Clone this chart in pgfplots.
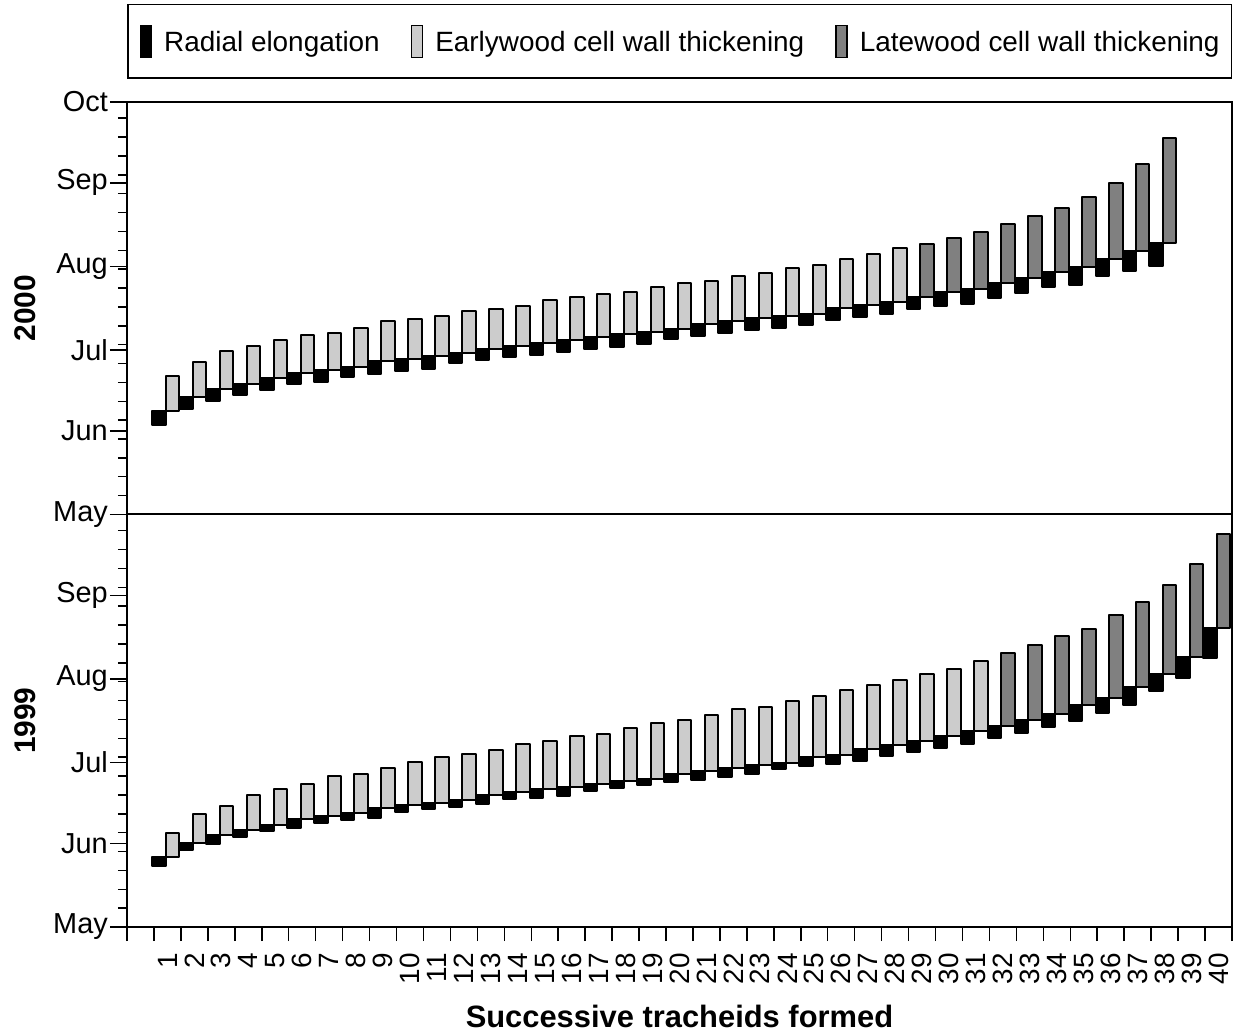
\documentclass[border=0pt]{standalone}
\usepackage{fontspec}
\setmainfont{Liberation Sans}
\usepackage{pgfplots}
\usepackage{pgfplotstable}
\pgfplotsset{compat=1.18}
\definecolor{lightbar}{RGB}{204,204,204}
\definecolor{darkbar}{RGB}{128,128,128}

% y values: days since 1 May
\pgfplotstableread{
i b0 b1
1 33.3 38.4
2 39.25 43.6
3 42.1 46.7
4 44.2 48.5
5 46.0 50.6
6 48.3 52.6
7 49.1 53.7
8 51.0 54.7
9 52.0 56.8
10 53.2 57.8
11 54.1 58.7
12 56.2 59.9
13 57.2 61.5
14 58.4 62.5
15 59.3 63.6
16 60.3 64.6
17 61.3 65.8
18 62.1 66.8
19 63.1 67.7
20 65.2 68.7
21 66.2 70.8
22 67.3 71.7
23 68.3 72.7
24 69.2 73.6
25 70.2 74.5
26 72.3 76.6
27 73.3 77.8
28 74.3 78.8
29 76.1 80.7
30 77.2 82.5
31 78.2 83.8
32 80.3 85.7
33 82.3 87.8
34 84.4 89.8
35 85.3 91.8
36 88.4 94.6
37 90.3 97.7
38 92.3 100.7
}\topblack
\pgfplotstableread{
i b1 g1
1 38.4 51.4
2 43.6 56.6
3 46.7 60.5
4 48.5 62.4
5 50.6 64.6
6 52.6 66.5
7 53.7 67.5
8 54.7 69.3
9 56.8 71.6
10 57.8 72.4
11 58.7 73.5
12 59.9 75.5
13 61.5 76.4
14 62.5 77.2
15 63.6 79.7
16 64.6 80.5
17 65.8 81.6
18 66.8 82.6
19 67.7 84.4
20 68.7 85.7
21 70.8 86.5
22 71.7 88.4
23 72.7 89.6
24 73.6 91.5
25 74.5 92.5
26 76.6 94.6
27 77.8 96.5
28 78.8 98.7
}\toplight
\pgfplotstableread{
i b1 g1
29 80.7 100.5
30 82.5 102.7
31 83.8 104.6
32 85.7 107.6
33 87.8 110.7
34 89.8 113.5
35 91.8 117.6
36 94.6 122.8
37 97.7 129.9
38 100.7 139.7
}\topdark

\pgfplotstableread{
i b0 b1
1 22.5 25.8
2 28.5 31.0
3 30.7 34.1
4 33.4 35.9
5 35.6 38.0
6 36.8 39.9
7 38.6 41.1
8 39.6 42.1
9 40.6 44.0
10 42.7 45.2
11 43.6 46.0
12 44.6 47.0
13 45.6 48.9
14 47.3 50.1
15 47.7 51.0
16 48.6 52.0
17 50.5 53.0
18 51.6 54.1
19 52.6 55.0
20 53.6 56.9
21 54.7 57.9
22 55.7 59.0
23 56.7 60.0
24 58.5 61.0
25 59.6 63.1
26 60.6 63.9
27 61.6 66.2
28 63.5 67.5
29 65.0 69.0
30 66.5 70.8
31 68.0 72.6
32 70.0 74.5
33 72.0 76.6
34 74.0 79.1
35 76.5 82.2
36 79.5 85.0
37 82.5 89.0
38 87.5 94.0
39 92.4 100.1
40 99.7 111.0
}\botblack
\pgfplotstableread{
i b1 g1
1 25.8 34.9
2 31.0 41.9
3 34.1 44.8
4 35.9 48.9
5 38.0 51.0
6 39.9 52.9
7 41.1 55.9
8 42.1 56.9
9 44.0 59.0
10 45.2 61.2
11 46.0 63.1
12 47.0 64.0
13 48.9 65.8
14 50.1 67.8
15 51.0 68.9
16 52.0 70.7
17 53.0 71.7
18 54.1 73.8
19 55.0 75.8
20 56.9 76.9
21 57.9 78.8
22 59.0 80.7
23 60.0 81.6
24 61.0 83.8
25 63.1 85.7
26 63.9 87.8
27 66.2 89.6
28 67.5 91.6
29 69.0 93.7
30 70.8 95.8
31 72.6 98.6
}\botlight
\pgfplotstableread{
i b1 g1
32 74.5 101.7
33 76.6 104.7
34 79.1 107.8
35 82.2 110.6
36 85.0 115.7
37 89.0 120.7
38 94.0 126.7
39 100.1 134.7
40 111.0 145.8
}\botdark

\pgfplotsset{
  base/.style={scale only axis, width=1105bp, height=412.5bp,
    xmin=-0.5, xmax=40.5, ymin=0, ymax=153, anchor=south west},
  bars/.style={base, hide axis, ybar stacked, bar width=0.5},
  barline/.style={draw=black, line width=2bp, line join=round},
  frame/.style={base, axis line style={line width=2bp},
    tick align=outside, ytick pos=left,
    ytick={0,31,61,92,123,153},
    minor ytick={7,14,...,147},
    major tick length=17bp, minor tick length=9bp,
    every tick/.style={line width=1.5bp, black},
    yticklabel style={font=\fontsize{29}{29}\selectfont, inner sep=0pt, anchor=east, xshift=-2bp},
    ylabel style={font=\fontsize{30}{30}\selectfont\bfseries, at={(axis description cs:0,0.5)}, anchor=center, xshift=0bp, yshift=102bp},
  },
  legimg/.style={draw=black, line width=1.5bp,
    legend image code/.code={\draw[##1] (0bp,-15bp) rectangle (11bp,17bp);}},
}

\begin{document}
\begin{tikzpicture}
\path[use as bounding box] (0,0) rectangle (1244bp,1034bp);

% ---------- top panel (2000) ----------
\begin{axis}[frame, at={(127bp,519.5bp)}, xtick=\empty,
  yticklabels={May,Jun,Jul,Aug,Sep,Oct},
  ylabel={2000},
  legend columns=3,
  legend style={at={(axis description cs:0,1)}, anchor=south west, yshift=23bp,
    draw=black, line width=1.5bp, inner xsep=12bp, inner ysep=20bp,
    font=\fontsize{28}{28}\selectfont,
    nodes={inner xsep=0pt, inner ysep=2bp},
    /tikz/every odd column/.append style={column sep=12bp},
    /tikz/every even column/.append style={column sep=31bp}},
]
\addlegendimage{legimg, fill=black}
\addlegendentry{Radial elongation}
\addlegendimage{legimg, fill=lightbar}
\addlegendentry{Earlywood cell wall thickening}
\addlegendimage{legimg, fill=darkbar}
\addlegendentry{Latewood cell wall thickening}
\end{axis}

\begin{axis}[bars, at={(127bp,519.5bp)}]
\addplot[draw=none, fill=none] table[x expr=\thisrow{i}-0.31, y=b0] {\topblack};
\addplot[barline, fill=black] table[x expr=\thisrow{i}-0.31, y expr=\thisrow{b1}-\thisrow{b0}] {\topblack};
\end{axis}
\begin{axis}[bars, at={(127bp,519.5bp)}]
\addplot[draw=none, fill=none] table[x expr=\thisrow{i}+0.19, y=b1] {\toplight};
\addplot[barline, fill=lightbar] table[x expr=\thisrow{i}+0.19, y expr=\thisrow{g1}-\thisrow{b1}] {\toplight};
\end{axis}
\begin{axis}[bars, at={(127bp,519.5bp)}]
\addplot[draw=none, fill=none] table[x expr=\thisrow{i}+0.19, y=b1] {\topdark};
\addplot[barline, fill=darkbar] table[x expr=\thisrow{i}+0.19, y expr=\thisrow{g1}-\thisrow{b1}] {\topdark};
\end{axis}

% ---------- bottom panel (1999) ----------
\begin{axis}[frame, at={(127bp,107bp)},
  yticklabels={May,Jun,Jul,Aug,Sep,{}},
  ylabel={1999},
  xtick={1,...,40}, xtick pos=bottom, xtick style={draw=none},
  /pgf/number format/assume math mode=true,
  xticklabel style={font=\fontsize{28}{28}\selectfont, rotate=90, anchor=east, inner sep=0pt, xshift=-9bp},
  xlabel={Successive tracheids formed},
  xlabel style={font=\fontsize{31}{31}\selectfont\bfseries, at={(axis description cs:0.5,0)}, anchor=base, yshift=-100bp},
]
\end{axis}
% x tick marks between tracheids
\begin{axis}[base, at={(127bp,107bp)}, axis line style={draw=none},
  ytick=\empty, xtick={-0.5,0.5,...,40.5}, xticklabels={}, xtick pos=bottom,
  tick align=outside, major tick length=14bp,
  every tick/.style={line width=1.5bp, black}]
\end{axis}

\begin{axis}[bars, at={(127bp,107bp)}]
\addplot[draw=none, fill=none] table[x expr=\thisrow{i}-0.31, y=b0] {\botblack};
\addplot[barline, fill=black] table[x expr=\thisrow{i}-0.31, y expr=\thisrow{b1}-\thisrow{b0}] {\botblack};
\end{axis}
\begin{axis}[bars, at={(127bp,107bp)}]
\addplot[draw=none, fill=none] table[x expr=\thisrow{i}+0.19, y=b1] {\botlight};
\addplot[barline, fill=lightbar] table[x expr=\thisrow{i}+0.19, y expr=\thisrow{g1}-\thisrow{b1}] {\botlight};
\end{axis}
\begin{axis}[bars, at={(127bp,107bp)}]
\addplot[draw=none, fill=none] table[x expr=\thisrow{i}+0.19, y=b1] {\botdark};
\addplot[barline, fill=darkbar] table[x expr=\thisrow{i}+0.19, y expr=\thisrow{g1}-\thisrow{b1}] {\botdark};
\end{axis}
\end{tikzpicture}
\end{document}
